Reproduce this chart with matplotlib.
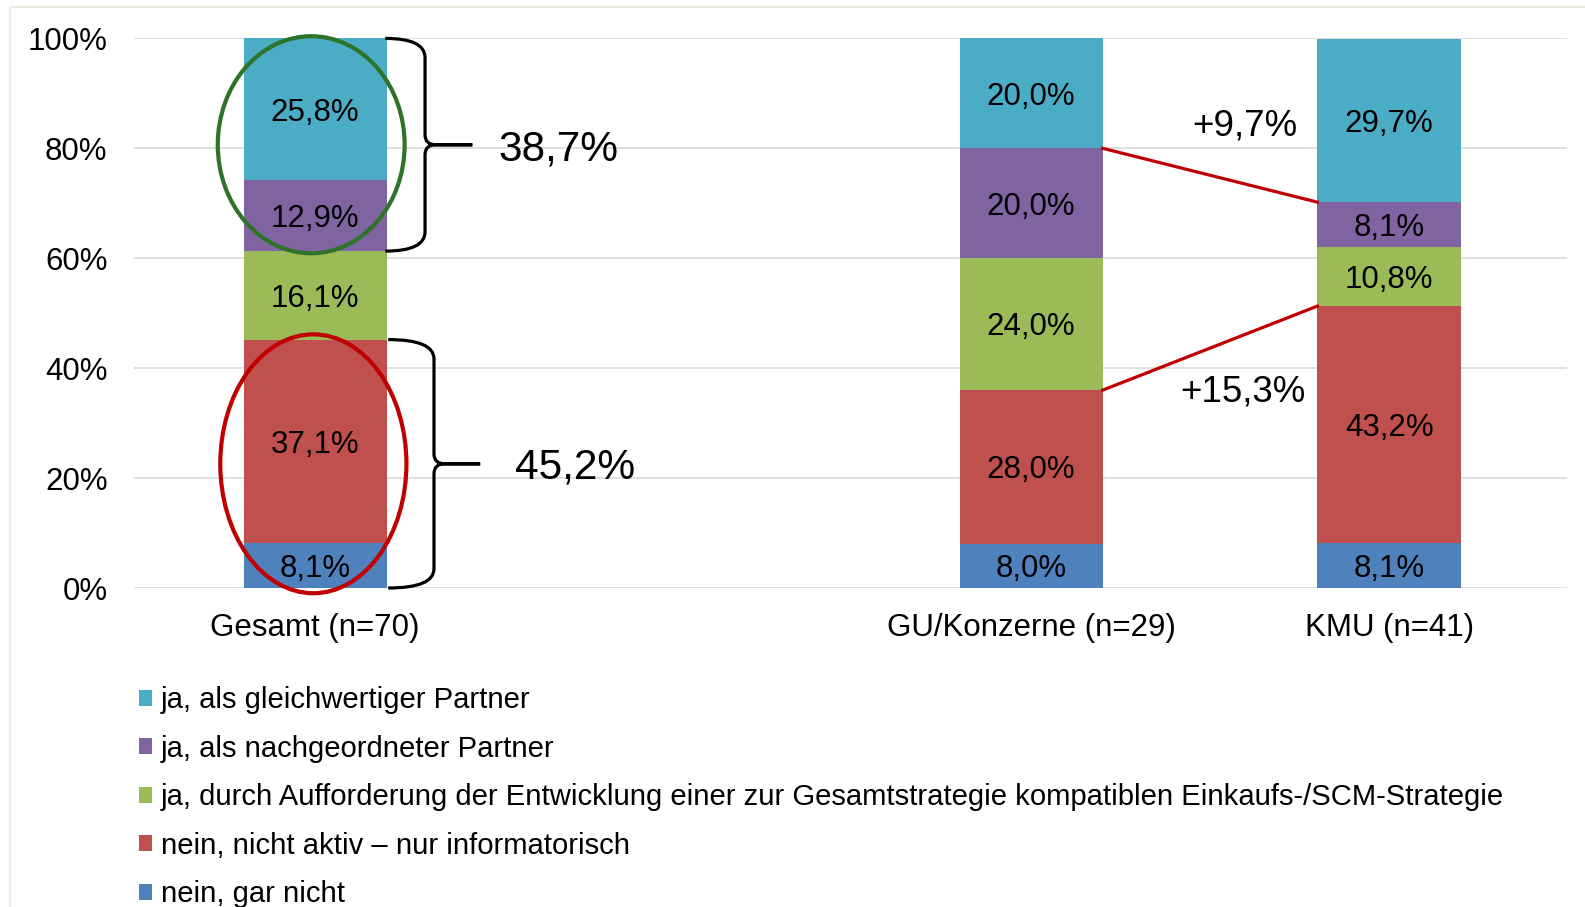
import matplotlib.pyplot as plt
import numpy as np
from matplotlib.patches import Ellipse, Rectangle, PathPatch
from matplotlib.path import Path

plt.rcParams['font.family'] = ['Liberation Sans', 'DejaVu Sans']

# Daten
gruppen = ['Gesamt (n=70)', 'GU/Konzerne (n=29)', 'KMU (n=41)']
x_pos = [0, 2, 3]
antworten = ['nein, gar nicht',
             'nein, nicht aktiv – nur informatorisch',
             'ja, durch Aufforderung der Entwicklung einer zur Gesamtstrategie kompatiblen Einkaufs-/SCM-Strategie',
             'ja, als nachgeordneter Partner',
             'ja, als gleichwertiger Partner']
farben = ['#4F81BD', '#C0504D', '#9BBB59', '#8064A2', '#4BACC6']
gar_nicht = [8.1, 8.0, 8.1]
nicht_aktiv = [37.1, 28.0, 43.2]
aufforderung = [16.1, 24.0, 10.8]
nachgeordnet = [12.9, 20.0, 8.1]
gleichwertig = [25.8, 20.0, 29.7]
# Differenzen KMU - GU laut Vorlage (aus ungerundeten Werten)
diff_gleichwertig = 9.7
diff_nicht_aktiv = 15.3
y_ticks = [0, 20, 40, 60, 80, 100]

serien = [gar_nicht, nicht_aktiv, aufforderung, nachgeordnet, gleichwertig]


def fmt(v, plus=False):
    s = f'{v:.1f}%'.replace('.', ',')
    return ('+' + s) if plus else s


def klammer(ax, x0, xs, xt, y_lo, y_hi, r=3.5, c=1.8):
    ym = (y_lo + y_hi) / 2
    verts = [(x0, y_hi), (xs, y_hi), (xs, y_hi - r),
             (xs, ym + c), (xs, ym), (xs + 0.03, ym), (xt, ym),
             (xs + 0.03, ym), (xs, ym), (xs, ym - c),
             (xs, y_lo + r), (xs, y_lo), (x0, y_lo)]
    codes = [Path.MOVETO, Path.CURVE3, Path.CURVE3, Path.LINETO, Path.CURVE3, Path.CURVE3,
             Path.LINETO, Path.LINETO, Path.CURVE3, Path.CURVE3, Path.LINETO,
             Path.CURVE3, Path.CURVE3]
    ax.add_patch(PathPatch(Path(verts, codes), fill=False, lw=2.3, ec='black',
                           clip_on=False, zorder=5))
    return ym


W, H = 1585, 907
fig = plt.figure(figsize=(W / 100, H / 100), dpi=100)
fig.patches.append(Rectangle((10 / W, -0.1), 1.2, 1.1 - 7 / H, transform=fig.transFigure,
                             fill=False, ec='#EEECE1', lw=1.5))
ax = fig.add_axes([134 / W, 1 - 588 / H, (1567 - 134) / W, (588 - 38.4) / H])

breite = 0.4
unten = np.zeros(3)
balken = []
for werte, farbe, name in zip(serien, farben, antworten):
    b = ax.bar(x_pos, werte, breite, bottom=unten, color=farbe, label=name, zorder=2)
    balken.append(b)
    for x, u, v in zip(x_pos, unten, werte):
        ax.text(x, u + v / 2 - 0.6, fmt(v), ha='center', va='center', fontsize=22.5, zorder=3)
    unten = unten + np.array(werte)

ax.set_xlim(-0.506, 3.497)
ax.set_ylim(0, 100)
ax.set_yticks(y_ticks)
ax.set_yticklabels([f'{t}%' for t in y_ticks], fontsize=22.5)
ax.set_xticks(x_pos)
ax.set_xticklabels(gruppen, fontsize=22.5)
ax.tick_params(length=0)
ax.tick_params(axis='y', pad=19)
ax.tick_params(axis='x', pad=18)
ax.grid(axis='y', color='#D9D9D9', lw=1.2, zorder=0)
ax.set_axisbelow(True)
for s in ax.spines.values():
    s.set_visible(False)

# Klammern und Ellipsen bei Gesamt
oben_lo = gar_nicht[0] + nicht_aktiv[0] + aufforderung[0]
oben_sum = nachgeordnet[0] + gleichwertig[0]
unten_sum = gar_nicht[0] + nicht_aktiv[0]

ym1 = klammer(ax, 0.196, 0.307, 0.439, oben_lo, 100)
ym2 = klammer(ax, 0.204, 0.332, 0.461, 0, unten_sum)
ax.text(0.68, ym1 - 0.8, fmt(oben_sum), fontsize=30.5, ha='center', va='center')
ax.text(0.726, ym2 - 0.6, fmt(unten_sum), fontsize=30.5, ha='center', va='center')

ax.add_patch(Ellipse((-0.011, (oben_lo + 100) / 2), 0.522, oben_sum + 0.8, fill=False,
                     ec='#2E7428', lw=3, zorder=4, clip_on=False))
ax.add_patch(Ellipse((-0.005, unten_sum / 2), 0.52, unten_sum + 1.9, fill=False,
                     ec='#C00000', lw=3, zorder=4, clip_on=False))

# Verbindungslinien GU -> KMU
gu_lila = gar_nicht[1] + nicht_aktiv[1] + aufforderung[1] + nachgeordnet[1]
kmu_lila = gar_nicht[2] + nicht_aktiv[2] + aufforderung[2] + nachgeordnet[2]
gu_rot = gar_nicht[1] + nicht_aktiv[1]
kmu_rot = gar_nicht[2] + nicht_aktiv[2]
ax.plot([x_pos[1] + breite / 2, x_pos[2] - breite / 2], [gu_lila, kmu_lila], color='#C00000', lw=2.3, zorder=4)
ax.plot([x_pos[1] + breite / 2, x_pos[2] - breite / 2], [gu_rot, kmu_rot], color='#C00000', lw=2.3, zorder=4)
ax.text(2.598, 84.0, fmt(diff_gleichwertig, True), fontsize=26.5, ha='center', va='center')
ax.text(2.592, 35.6, fmt(diff_nicht_aktiv, True), fontsize=26.5, ha='center', va='center')

# Legende
fig.legend([b for b in balken[::-1]], antworten[::-1], loc='upper left',
           bbox_to_anchor=(138.5 / W, 1 - 686 / H), frameon=False, fontsize=21.1,
           handlelength=0.47, handleheight=0.47, handletextpad=0.3, labelspacing=0.70,
           borderpad=0, borderaxespad=0)

fig.savefig('out.png', dpi=100)
